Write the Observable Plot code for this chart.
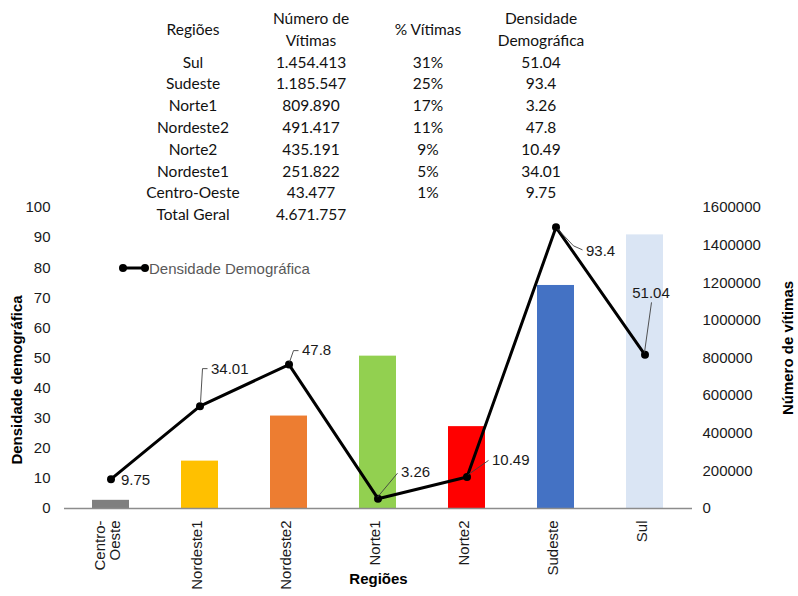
<!DOCTYPE html>
<html><head><meta charset="utf-8">
<script src="https://cdn.jsdelivr.net/npm/d3@7"></script>
<script src="https://cdn.jsdelivr.net/npm/@observablehq/plot@0.6"></script>
<style>
body{margin:0;background:#fff;}
#wrap{position:relative;width:798px;height:596px;overflow:hidden;font-family:"Liberation Sans",Arial,sans-serif;}
#chart{position:absolute;left:0;top:0;}
#tbl{position:absolute;left:134px;top:8px;border-collapse:collapse;font-family:Lato,"Open Sans",sans-serif;font-size:15.5px;color:#111;line-height:21.8px;}
#tbl td{padding:0;text-align:center;vertical-align:middle;white-space:nowrap;}
#legend{position:absolute;left:119px;top:258px;height:20px;display:flex;align-items:center;font-size:15px;color:#595959;}
</style>
</head><body>
<div id="wrap"><div id="chart"></div><table id="tbl"></table><div id="legend"></div></div>
<script>
// ---- chart data ----
const regions = ["Centro-Oeste","Nordeste1","Nordeste2","Norte1","Norte2","Sudeste","Sul"];
const victims = [43477, 251822, 491417, 809890, 435191, 1185547, 1454413];
const density = [9.75, 34.01, 47.8, 3.26, 10.49, 93.4, 51.04];
const barColors = ["#7f7f7f","#ffc000","#ed7d31","#92d050","#ff0000","#4472c4","#dae5f4"];
const leftTicks = [0,10,20,30,40,50,60,70,80,90,100];
const rightTicks = [0,200000,400000,600000,800000,1000000,1200000,1400000,1600000];

// ---- table data ----
const tableHeaders = ["Regiões","Número de\nVítimas","% Vítimas","Densidade\nDemográfica"];
const tableRegions = ["Sul","Sudeste","Norte1","Nordeste2","Norte2","Nordeste1","Centro-Oeste","Total Geral"];
const tableVictims = ["1.454.413","1.185.547","809.890","491.417","435.191","251.822","43.477","4.671.757"];
const tablePct = ["31%","25%","17%","11%","9%","5%","1%",""];
const tableDensity = ["51.04","93.4","3.26","47.8","10.49","34.01","9.75",""];

// ---- label layout (pixel offsets from each point) ----
const labelLayout = [
  {dx:10, dy:1,  anchor:"start",  leader:null},
  {dx:11, dy:-37, anchor:"start", leader:[[1,-3],[3,-37],[8,-37]]},
  {dx:13, dy:-14, anchor:"start", leader:[[1,-2],[5,-13.5],[10,-13.5]]},
  {dx:23, dy:-26, anchor:"start", leader:[[0,-1],[20,-25]]},
  {dx:25, dy:-17, anchor:"start", leader:[[2,-2],[22,-16]]},
  {dx:30, dy:24,  anchor:"start", leader:[[2,2],[18,19],[27,23]]},
  {dx:6,  dy:-62, anchor:"middle", leader:[[0,-2],[7,-52]]}
];

const K = 100 / 1600000; // victims -> left-axis units
const data = regions.map((r,i)=>({region:r, victims:victims[i], density:density[i]}));

const labelMarks = data.map((d,i)=>Plot.text([d], {
  x:"region", y:"density", text: dd => String(dd.density),
  dx: labelLayout[i].dx, dy: labelLayout[i].dy, textAnchor: labelLayout[i].anchor,
  fontSize:15, fill:"#1a1a1a"
}));

const plot = Plot.plot({
  width:798, height:596,
  marginLeft:64, marginRight:106, marginTop:207, marginBottom:88,
  style:{fontFamily:"'Liberation Sans', Arial, sans-serif", fontSize:"15px", color:"#1a1a1a", background:"transparent", overflow:"visible"},
  x:{domain:regions, paddingInner:0.58, paddingOuter:0.29, label:null},
  y:{domain:[0,100], label:null},
  color:{domain:regions, range:barColors},
  marks:[
    Plot.barY(data, {x:"region", y: d => d.victims*K, fill:"region"}),
    Plot.ruleY([0], {stroke:"#8c8c8c", strokeWidth:1.5}),
    Plot.axisY({anchor:"left", ticks:leftTicks, tickSize:0, tickPadding:14, label:null, fontSize:15}),
    Plot.axisY({anchor:"right", ticks:rightTicks.map(v=>v*K), tickFormat:(d)=>String(Math.round(d/K)), tickSize:0, tickPadding:10, label:null, fontSize:15}),
    Plot.axisX({tickSize:0, tickPadding:12, tickRotate:-90, dx:-3, label:null, fontSize:15,
      tickFormat: d => d === "Centro-Oeste" ? "Centro-\nOeste" : d}),
    Plot.line(data, {x:"region", y:"density", stroke:"#000", strokeWidth:3}),
    Plot.dot(data, {x:"region", y:"density", r:4, fill:"#000"}),
    ...labelMarks,
    Plot.text(["Regiões"], {frameAnchor:"bottom", dy:75, fontWeight:"bold", fontSize:15, fill:"#000"}),
    Plot.text(["Densidade demográfica"], {frameAnchor:"left", dx:-47, dy:22, rotate:-90, textAnchor:"middle", fontWeight:"bold", fontSize:15, fill:"#000"}),
    Plot.text(["Número de vítimas"], {frameAnchor:"right", dx:96, dy:-10, rotate:-90, textAnchor:"middle", fontWeight:"bold", fontSize:15, fill:"#000"})
  ]
});
document.getElementById("chart").appendChild(plot);

// leader lines drawn with the plot's own scales
const xs = plot.scale("x"), ys = plot.scale("y");
const svg = d3.select(plot.tagName.toLowerCase()==="svg" ? plot : plot.querySelector("svg"));
const lg = svg.append("g").attr("fill","none").attr("stroke","#404040").attr("stroke-width",0.9);
data.forEach((d,i)=>{
  const L = labelLayout[i].leader; if (!L) return;
  const px = xs.apply(d.region) + xs.bandwidth/2, py = ys.apply(d.density);
  lg.append("path").attr("d", d3.line()(L.map(([a,b])=>[px+a, py+b])));
});

// table
const tbl = d3.select("#tbl");
tbl.append("tr").selectAll("td").data(tableHeaders).join("td")
  .style("width",(d,i)=>[118,118,116,110][i]+"px")
  .html(d=>d.replace("\n","<br>"));
tableRegions.forEach((r,i)=>{
  tbl.append("tr").selectAll("td").data([r, tableVictims[i], tablePct[i], tableDensity[i]]).join("td").text(d=>d);
});

// legend
document.getElementById("legend").innerHTML =
  '<svg width="30" height="12"><line x1="4" y1="6" x2="26" y2="6" stroke="#000" stroke-width="3"/><circle cx="4" cy="6" r="4"/><circle cx="26" cy="6" r="4"/></svg><span>Densidade Demográfica</span>';
</script>
</body></html>
